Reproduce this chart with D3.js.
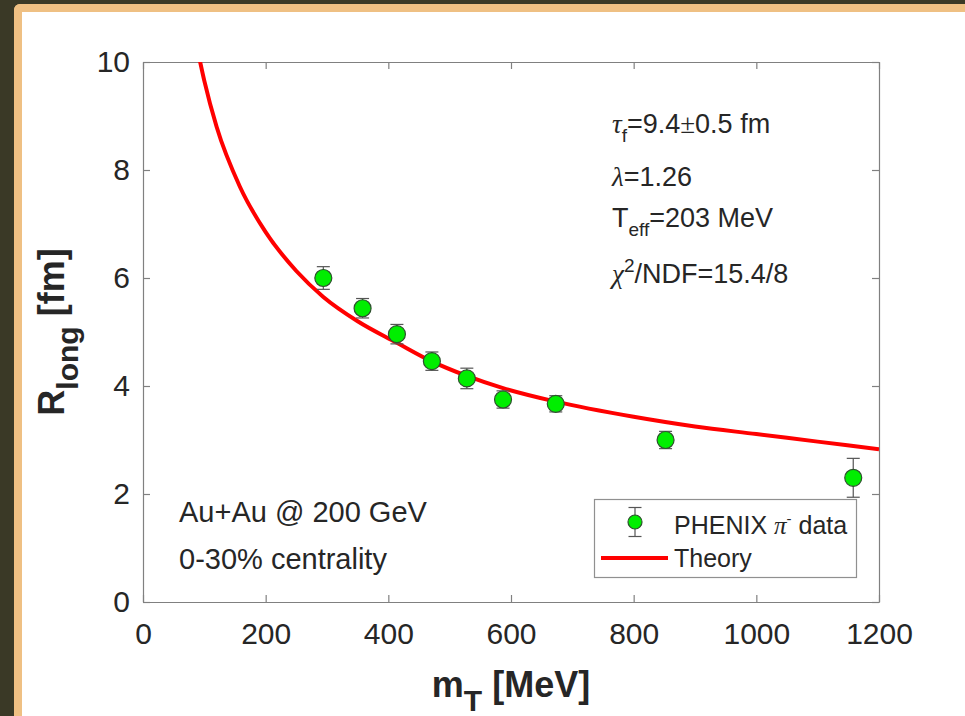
<!DOCTYPE html>
<html>
<head>
<meta charset="utf-8">
<script src="https://cdn.jsdelivr.net/npm/d3@7"></script>
<style>
  html, body { margin: 0; padding: 0; background: #3a3926; width: 965px; height: 716px; overflow: hidden; }
  #frame { position: absolute; left: 14px; top: 4px; width: 943px; height: 720px; background: #ffffff;
           border-left: 8px solid #efc083; border-top: 8px solid #efc083; border-right: 4px solid #efc083;
           border-top-left-radius: 6px; }
  svg { position: absolute; left: 0; top: 0; }
  text { font-family: "Liberation Sans", Arial, Helvetica, sans-serif; fill: #262626; }
</style>
</head>
<body>
<div id="frame"></div>
<script>
// ---- data ----
const mT = [294, 358, 414, 471, 528, 587, 673, 852, 1158];
const Rlong = [6.00, 5.44, 4.96, 4.46, 4.14, 3.75, 3.67, 3.00, 2.30];
const Rerr = [0.21, 0.18, 0.18, 0.17, 0.19, 0.16, 0.15, 0.16, 0.36];

const theoryMT = [90, 100, 120, 158, 200, 250, 294, 350, 414, 470, 527, 587, 673, 800, 900, 1000, 1100, 1200];
const theoryR  = [10.17, 9.65, 8.8, 7.69, 6.85, 6.13, 5.65, 5.2, 4.8, 4.46, 4.19, 3.96, 3.71, 3.43, 3.25, 3.11, 2.97, 2.83];

const xTicks = [0, 200, 400, 600, 800, 1000, 1200];
const yTicks = [0, 2, 4, 6, 8, 10];

// ---- layout ----
const W = 965, H = 716;
const svg = d3.select("body").append("svg").attr("width", W).attr("height", H);

const x = d3.scaleLinear().domain([0, 1200]).range([143, 879]);
const y = d3.scaleLinear().domain([0, 10]).range([602, 62]);

const axisColor = "#808080";
const tickFont = 30;
const fmt = d3.format("d");

function styleAxis(g) {
  g.selectAll("path.domain").attr("stroke", axisColor).attr("stroke-width", 1.2);
  g.selectAll(".tick line").attr("stroke", axisColor).attr("stroke-width", 1.2);
  g.selectAll(".tick text").attr("fill", "#262626")
    .style("font-family", '"Liberation Sans", Arial, sans-serif').style("font-size", tickFont + "px");
}

svg.append("g").attr("transform", `translate(0,${y(0)})`)
  .call(d3.axisBottom(x).tickValues(xTicks).tickFormat(fmt).tickSizeInner(-7).tickSizeOuter(0).tickPadding(21))
  .call(styleAxis);
svg.append("g").attr("transform", `translate(0,${y(10)})`)
  .call(d3.axisTop(x).tickValues(xTicks).tickSizeInner(-7).tickSizeOuter(0).tickFormat(""))
  .call(styleAxis);
svg.append("g").attr("transform", `translate(${x(0)},0)`)
  .call(d3.axisLeft(y).tickValues(yTicks).tickFormat(fmt).tickSizeInner(-7).tickSizeOuter(0).tickPadding(13))
  .call(styleAxis);
svg.append("g").attr("transform", `translate(${x(1200)},0)`)
  .call(d3.axisRight(y).tickValues(yTicks).tickSizeInner(-7).tickSizeOuter(0).tickFormat(""))
  .call(styleAxis);

// clip
svg.append("clipPath").attr("id", "plotclip").append("rect")
  .attr("x", x(0)).attr("y", y(10)).attr("width", x(1200) - x(0)).attr("height", y(0) - y(10));

// theory curve
const line = d3.line().x((d, i) => x(theoryMT[i])).y((d, i) => y(theoryR[i])).curve(d3.curveMonotoneX);
svg.append("path").datum(theoryR).attr("d", line)
  .attr("fill", "none").attr("stroke", "#ff0000").attr("stroke-width", 4)
  .attr("clip-path", "url(#plotclip)");

// data points with error bars
const pts = svg.append("g");
const cap = 6.5;
mT.forEach((m, i) => {
  const g = pts.append("g");
  const cx = x(m), top = y(Rlong[i] + Rerr[i]), bot = y(Rlong[i] - Rerr[i]);
  g.append("line").attr("x1", cx).attr("x2", cx).attr("y1", top).attr("y2", bot).attr("stroke", "#555").attr("stroke-width", 1.2);
  g.append("line").attr("x1", cx - cap).attr("x2", cx + cap).attr("y1", top).attr("y2", top).attr("stroke", "#555").attr("stroke-width", 1.2);
  g.append("line").attr("x1", cx - cap).attr("x2", cx + cap).attr("y1", bot).attr("y2", bot).attr("stroke", "#555").attr("stroke-width", 1.2);
  g.append("circle").attr("cx", cx).attr("cy", y(Rlong[i])).attr("r", 8.5)
    .attr("fill", "#00ee00").attr("stroke", "#2f4f2f").attr("stroke-width", 1.2);
});

// axis labels
const yl = svg.append("text").attr("transform", `translate(64,${(y(0) + y(10)) / 2}) rotate(-90)`)
  .attr("text-anchor", "middle").style("font-weight", "bold").style("font-size", "36px");
yl.append("tspan").text("R");
yl.append("tspan").text("long").style("font-size", "30px").attr("dy", 14);
yl.append("tspan").text(" [fm]").attr("dy", -14);

const xl = svg.append("text").attr("x", (x(0) + x(1200)) / 2).attr("y", 697)
  .attr("text-anchor", "middle").style("font-weight", "bold").style("font-size", "36px");
xl.append("tspan").text("m");
xl.append("tspan").text("T").style("font-size", "30px").attr("dy", 14);
xl.append("tspan").text(" [MeV]").attr("dy", -14);

// annotations
const annFont = 27;
const subFont = 19;
const greek = '"Liberation Serif", "Times New Roman", serif';
const a1 = svg.append("text").attr("x", 612).attr("y", 133).style("font-size", annFont + "px");
a1.append("tspan").text("τ").style("font-family", greek).style("font-style", "italic");
a1.append("tspan").text("f").style("font-size", subFont + "px").attr("dy", 9);
a1.append("tspan").text("=9.4").attr("dy", -9);
a1.append("tspan").text("±").style("font-family", greek);
a1.append("tspan").text("0.5 fm");

const a2 = svg.append("text").attr("x", 612).attr("y", 186).style("font-size", annFont + "px");
a2.append("tspan").text("λ").style("font-family", greek).style("font-style", "italic");
a2.append("tspan").text("=1.26");

const a3 = svg.append("text").attr("x", 612).attr("y", 227).style("font-size", annFont + "px");
a3.append("tspan").text("T");
a3.append("tspan").text("eff").style("font-size", subFont + "px").attr("dy", 9);
a3.append("tspan").text("=203 MeV").attr("dy", -9);

const a4 = svg.append("text").attr("x", 612).attr("y", 283).style("font-size", annFont + "px");
a4.append("tspan").text("χ").style("font-family", greek).style("font-style", "italic");
a4.append("tspan").text("2").style("font-size", subFont + "px").attr("dy", -11);
a4.append("tspan").text("/NDF=15.4/8").attr("dy", 11);

svg.append("text").attr("x", 179).attr("y", 522).style("font-size", "29px").text("Au+Au @ 200 GeV");
svg.append("text").attr("x", 179).attr("y", 569).style("font-size", "29px").text("0-30% centrality");

// legend
const lg = svg.append("g");
lg.append("rect").attr("x", 594.5).attr("y", 499.5).attr("width", 262).attr("height", 78)
  .attr("fill", "#ffffff").attr("stroke", "#909090").attr("stroke-width", 1.2);
const lx = 635, ly = 522;
lg.append("line").attr("x1", lx).attr("x2", lx).attr("y1", ly - 14.5).attr("y2", ly + 14.5).attr("stroke", "#555").attr("stroke-width", 1.2);
lg.append("line").attr("x1", lx - cap).attr("x2", lx + cap).attr("y1", ly - 14.5).attr("y2", ly - 14.5).attr("stroke", "#555").attr("stroke-width", 1.2);
lg.append("line").attr("x1", lx - cap).attr("x2", lx + cap).attr("y1", ly + 14.5).attr("y2", ly + 14.5).attr("stroke", "#555").attr("stroke-width", 1.2);
lg.append("circle").attr("cx", lx).attr("cy", ly).attr("r", 7).attr("fill", "#00ee00").attr("stroke", "#2f4f2f").attr("stroke-width", 1.2);
lg.append("line").attr("x1", 601).attr("x2", 668).attr("y1", 558).attr("y2", 558).attr("stroke", "#ff0000").attr("stroke-width", 4);
const lt1 = lg.append("text").attr("x", 674).attr("y", 534).style("font-size", "25px");
lt1.append("tspan").text("PHENIX ");
lt1.append("tspan").text("π").style("font-family", greek).style("font-style", "italic");
lt1.append("tspan").text("-").style("font-size", "15px").attr("dy", -10);
lt1.append("tspan").text(" data").attr("dy", 10);
lg.append("text").attr("x", 674).attr("y", 567).style("font-size", "25px").text("Theory");
</script>
</body>
</html>
